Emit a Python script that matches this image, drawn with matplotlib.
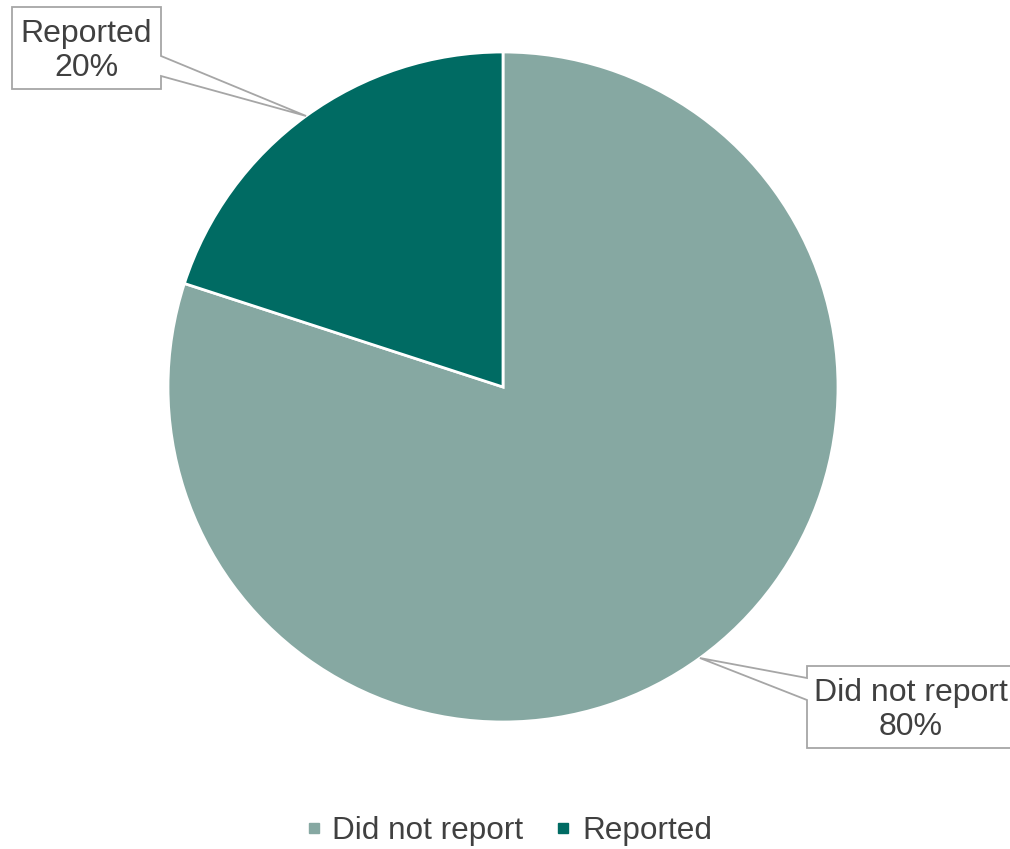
import matplotlib.pyplot as plt
from matplotlib.patches import Polygon
from matplotlib.lines import Line2D
import numpy as np

plt.rcParams['font.family'] = ['Liberation Sans', 'DejaVu Sans']

# Data
categories = ['Did not report', 'Reported']
shares = [80, 20]
colors = ['#86A8A2', '#006B63']

W, H = 1010, 849
text_color = '#404040'
edge_grey = '#A6A6A6'

fig = plt.figure(figsize=(W / 100, H / 100), dpi=100)
ax = fig.add_axes([0, 0, 1, 1])

center = (503, H - 387)
radius = 335
wedges, _ = ax.pie(shares, colors=colors, startangle=90, counterclock=False,
                   center=center, radius=radius, frame=True,
                   wedgeprops=dict(edgecolor='white', linewidth=2))
ax.set_xlim(0, W)
ax.set_ylim(0, H)
ax.set_aspect('equal')
ax.axis('off')

# callout boxes: (left, top, right, bottom) in pixels, side the pointer leaves from, pointer gap
boxes = {
    'Did not report': dict(rect=(807, 666, 1016, 748), side='left', gap=(678, 700)),
    'Reported': dict(rect=(12, 7, 161, 89), side='right', gap=(56, 76)),
}

for w, cat, val in zip(wedges, categories, shares):
    mid = np.deg2rad((w.theta1 + w.theta2) / 2)
    tip = (center[0] + radius * np.cos(mid), center[1] + radius * np.sin(mid))
    b = boxes[cat]
    l, t, r, btm = b['rect']
    g1, g2 = b['gap']
    if b['side'] == 'right':
        pts = [(l, t), (r, t), (r, g1), None, (r, g2), (r, btm), (l, btm)]
    else:
        pts = [(l, t), (r, t), (r, btm), (l, btm), (l, g2), None, (l, g1)]
    verts = [tip if p is None else (p[0], H - p[1]) for p in pts]
    ax.add_patch(Polygon(verts, closed=True, facecolor='white',
                         edgecolor=edge_grey, linewidth=1.3, zorder=3))
    cx = (l + min(r, W)) / 2 + (2 if b['side'] == 'left' else 0)
    cy = H - (t + btm) / 2 - 3
    ax.text(cx, cy, f'{cat}\n{val}%', ha='center', va='center',
            fontsize=23, color=text_color, linespacing=1.2, zorder=4)

handles = [Line2D([], [], marker='s', linestyle='', color=c, markersize=7)
           for c in colors]
fig.legend(handles, categories, loc='center', bbox_to_anchor=(0.503, 0.021),
           ncol=2, frameon=False, fontsize=22.7, labelcolor=text_color,
           handlelength=0.6, handletextpad=0.3, columnspacing=0.95)

fig.savefig('out.png', dpi=100)
